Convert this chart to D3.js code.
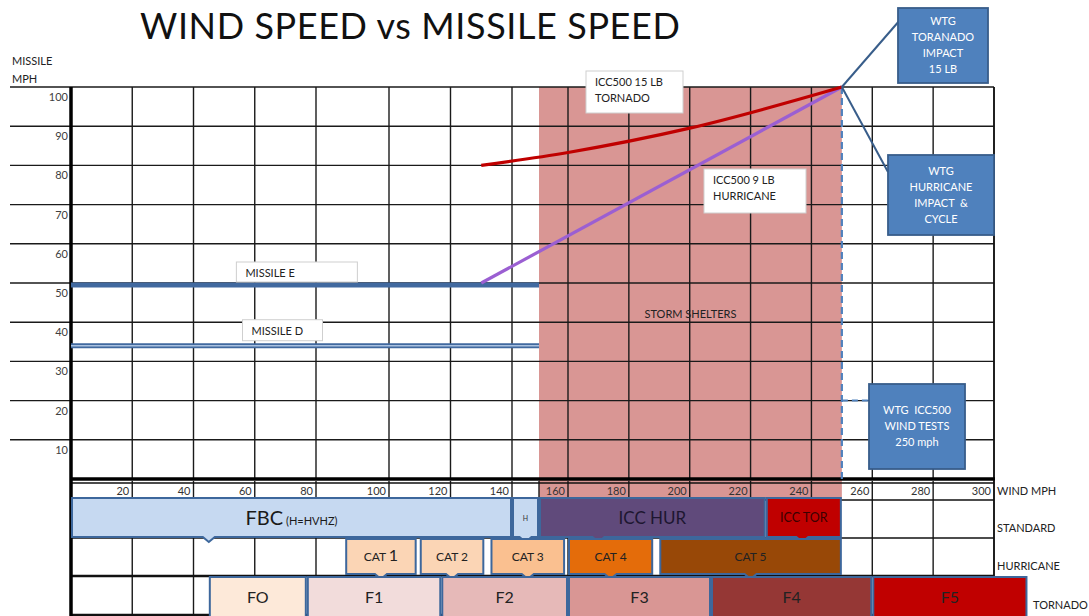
<!DOCTYPE html>
<html>
<head>
<meta charset="utf-8">
<script src="https://cdn.jsdelivr.net/npm/d3@7/dist/d3.min.js"></script>
<style>
  body { margin: 0; background: #fff; }
  svg { font-family: Lato, "Open Sans", sans-serif; }
</style>
</head>
<body>
<svg id="chart" width="1089" height="616"></svg>
<script>
// ---- data ----
const windTicks = [20, 40, 60, 80, 100, 120, 140, 160, 180, 200, 220, 240, 260, 280, 300];
const missileTicks = [10, 20, 30, 40, 50, 60, 70, 80, 90, 100];

// ICC500 15 lb tornado missile (wind mph, missile mph)
const tornadoMissile = [[130, 80], [160, 83.3], [200, 89.5], [250, 100]];
// ICC500 9 lb hurricane missile
const hurricaneMissile = [[130, 50], [250, 100]];

const missileNames = ['MISSILE E', 'MISSILE D'];
const missileSpeeds = [49.5, 34];
const missileUpTo = 150;

const stormShelter = [150, 250];
const wtgWindTest = 250;

const standardNames = ['FBC', 'H', 'ICC HUR', 'ICC TOR'];
const standardFrom = [0, 140, 150, 225];
const standardTo = [140, 150, 225, 250];

const hurricaneNames = ['CAT 1', 'CAT 2', 'CAT 3', 'CAT 4', 'CAT 5'];
const hurricaneFrom = [88, 110, 133, 160, 190];
const hurricaneTo = [109, 131, 159, 188, 250];

const tornadoNames = ['FO', 'F1', 'F2', 'F3', 'F4', 'F5'];
const tornadoFrom = [45, 77, 117, 160, 207, 260];
const tornadoTo = [77, 117, 160, 207, 260, 311];

// ---- layout ----
const svg = d3.select('#chart');

// the hand drawn grid is not evenly spaced, so the x scale has a few breakpoints
const x = d3.scaleLinear()
  .domain([0, 80, 100, 140, 150, 160, 300])
  .range([71, 316, 389, 512, 539, 568, 994]);
const y = d3.scaleLinear().domain([0, 100]).range([479, 87]);

const left = x(0), right = x(300);
const rowTick = [481, 500], rowStd = [500, 538], rowHur = [538, 576], rowTor = [576, 625];

// title
svg.append('text')
  .attr('x', 140).attr('y', 39)
  .attr('font-size', 36)
  .attr('letter-spacing', 0.6)
  .attr('fill', '#111')
  .text('WIND SPEED vs MISSILE SPEED');

svg.append('text').attr('x', 12).attr('y', 65).attr('font-size', 11).attr('fill', '#222').text('MISSILE');
svg.append('text').attr('x', 12).attr('y', 83).attr('font-size', 11).attr('fill', '#222').text('MPH');

// storm shelter area (also tints the tick row)
svg.append('rect')
  .attr('x', x(stormShelter[0])).attr('y', y(100))
  .attr('width', x(stormShelter[1]) - x(stormShelter[0]))
  .attr('height', rowTick[1] - y(100))
  .attr('fill', '#d99694');

// horizontal grid, running out to the left margin
svg.append('g').selectAll('line')
  .data(missileTicks)
  .enter().append('line')
  .attr('x1', 10).attr('x2', right)
  .attr('y1', d => y(d)).attr('y2', d => y(d))
  .attr('stroke', '#1a1a1a').attr('stroke-width', 1.4);

// vertical grid in the plot
svg.append('g').selectAll('line')
  .data(windTicks)
  .enter().append('line')
  .attr('x1', d => x(d)).attr('x2', d => x(d))
  .attr('y1', y(100)).attr('y2', y(0))
  .attr('stroke', '#1a1a1a').attr('stroke-width', 1.4);

// y tick labels sit just under their line
svg.append('g').selectAll('text')
  .data(missileTicks)
  .enter().append('text')
  .attr('x', left - 3).attr('y', d => y(d) + 14)
  .attr('text-anchor', 'end')
  .attr('font-size', 11).attr('fill', '#404040')
  .text(d => d);

// bottom table: vertical lines through tick / standard / hurricane rows
svg.append('g').selectAll('line')
  .data(windTicks.concat([150]))
  .enter().append('line')
  .attr('x1', d => x(d)).attr('x2', d => x(d))
  .attr('y1', rowTick[0]).attr('y2', d => d === 150 ? rowTick[1] : rowHur[1])
  .attr('stroke', '#1a1a1a').attr('stroke-width', 1.4);

// tornado row grid (only left part shows)
svg.append('g').selectAll('line')
  .data([20, 40])
  .enter().append('line')
  .attr('x1', d => x(d)).attr('x2', d => x(d))
  .attr('y1', rowTor[0]).attr('y2', 616)
  .attr('stroke', '#1a1a1a').attr('stroke-width', 1.4);

[rowTick[0] + 2, rowTick[1], rowStd[1], rowHur[1]].forEach((yy, i) => {
  svg.append('line')
    .attr('x1', left).attr('x2', right).attr('y1', yy).attr('y2', yy)
    .attr('stroke', '#111').attr('stroke-width', i === 3 ? 2.5 : 1.4);
});
svg.append('line').attr('x1', left).attr('x2', right).attr('y1', 615).attr('y2', 615)
  .attr('stroke', '#111').attr('stroke-width', 2.5);
svg.append('line').attr('x1', right).attr('x2', right).attr('y1', y(100)).attr('y2', rowHur[1])
  .attr('stroke', '#111').attr('stroke-width', 1.6);

// x tick labels, right aligned against their line
svg.append('g').selectAll('text')
  .data(windTicks)
  .enter().append('text')
  .attr('x', d => x(d) - 3).attr('y', 495)
  .attr('text-anchor', 'end')
  .attr('font-size', 11).attr('fill', '#333')
  .text(d => d);

// axes
svg.append('line').attr('x1', left).attr('x2', left).attr('y1', y(100)).attr('y2', 616)
  .attr('stroke', '#000').attr('stroke-width', 3.5);
svg.append('line').attr('x1', left).attr('x2', right + 1).attr('y1', y(0)).attr('y2', y(0))
  .attr('stroke', '#000').attr('stroke-width', 3.5);

// WTG test speed: dashed line at 250 mph
svg.append('line')
  .attr('x1', x(wtgWindTest)).attr('x2', x(wtgWindTest))
  .attr('y1', y(100)).attr('y2', y(0))
  .attr('stroke', '#4f81bd').attr('stroke-width', 2.2).attr('stroke-dasharray', '7,4');

// missile D / E lines
missileNames.forEach((name, i) => {
  const yy = y(missileSpeeds[i]);
  svg.append('line').attr('x1', left).attr('x2', x(missileUpTo)).attr('y1', yy).attr('y2', yy)
    .attr('stroke', '#41699f').attr('stroke-width', 5);
  if (name === 'MISSILE D') {
    svg.append('line').attr('x1', left).attr('x2', x(missileUpTo)).attr('y1', yy).attr('y2', yy)
      .attr('stroke', '#a9c1e0').attr('stroke-width', 1.5);
  }
});

const line = d3.line().x(d => x(d[0])).y(d => y(d[1])).curve(d3.curveMonotoneX);

svg.append('path').datum(hurricaneMissile)
  .attr('d', line).attr('fill', 'none')
  .attr('stroke', '#9b5fd2').attr('stroke-width', 3.2);
svg.append('path').datum(tornadoMissile)
  .attr('d', line).attr('fill', 'none')
  .attr('stroke', '#c00000').attr('stroke-width', 3.2);

// white label boxes
function labelBox(bx, by, w, h, lines) {
  svg.append('rect').attr('x', bx).attr('y', by).attr('width', w).attr('height', h)
    .attr('fill', '#fff').attr('stroke', '#cfcfcf').attr('stroke-width', 1);
  lines.forEach((t, i) => {
    svg.append('text').attr('x', bx + 9).attr('y', by + 15 + i * 16)
      .attr('font-size', 11).attr('fill', '#222').text(t);
  });
}
labelBox(x(54), y(50) - 21, 121, 20, [missileNames[0]]);
labelBox(x(56), y(missileSpeeds[1]) - 26, 80, 21, [missileNames[1]]);
labelBox(586, 71, 97, 42, ['ICC500 15 LB', 'TORNADO']);
labelBox(704, 169, 102, 44, ['ICC500 9 LB', 'HURRICANE']);

svg.append('text')
  .attr('x', (x(stormShelter[0]) + x(stormShelter[1])) / 2).attr('y', 318)
  .attr('text-anchor', 'middle').attr('font-size', 11).attr('fill', '#222')
  .text('STORM SHELTERS');

// blue callouts
function callout(bx, by, w, h, lines, fromX, fromY, toX, toY, dashed) {
  svg.append('line').attr('x1', fromX).attr('y1', fromY).attr('x2', toX).attr('y2', toY)
    .attr('stroke', dashed ? '#4f81bd' : '#385d8a').attr('stroke-width', 2)
    .attr('stroke-dasharray', dashed ? '6,4' : null);
  svg.append('rect').attr('x', bx).attr('y', by).attr('width', w).attr('height', h)
    .attr('fill', '#4f81bd').attr('stroke', '#385d8a').attr('stroke-width', 1.8);
  const top = by + h / 2 - (lines.length - 1) * 8;
  lines.forEach((t, i) => {
    svg.append('text').attr('x', bx + w / 2).attr('y', top + i * 16)
      .attr('dy', '0.35em').attr('text-anchor', 'middle')
      .attr('font-size', 11).attr('fill', '#fff')
      .style('white-space', 'pre').text(t);
  });
}
const tip = [x(wtgWindTest), y(100)];
callout(898, 8, 90, 75, ['WTG', 'TORANADO', 'IMPACT', '15 LB'], tip[0], tip[1], 900, 20);
callout(888, 155, 106, 80, ['WTG', 'HURRICANE', 'IMPACT  &', 'CYCLE'], tip[0], tip[1], 888, 172);
callout(869, 384, 96, 85, ['WTG  ICC500', 'WIND TESTS', '250 mph'], tip[0], y(20), 869, y(20), true);

// band boxes with a small pointer at the bottom
function bands(names, from, to, y0, y1, fills, pointerAt) {
  names.forEach((name, i) => {
    const x0 = x(from[i]) + 1, x1 = x(to[i]) - 1;
    const px = pointerAt ? pointerAt[i] : (x0 + x1) / 2;
    const p = `M${x0},${y0}H${x1}V${y1}H${px + 6}L${px},${y1 + 5}L${px - 6},${y1}H${x0}Z`;
    svg.append('path').attr('d', p)
      .attr('fill', fills[i]).attr('stroke', '#3d679c').attr('stroke-width', 2);
  });
}

const stdY = [498, 537], hurY = [539, 574], torY = [577, 622];
bands(standardNames, standardFrom, standardTo, stdY[0], stdY[1],
  ['#c6d9f1', '#c6d9f1', '#604a7b', '#c00000'],
  [x(45), x(145), x(170), x(237)]);
bands(hurricaneNames, hurricaneFrom, hurricaneTo, hurY[0], hurY[1],
  ['#fbd5b5', '#fbd5b5', '#fac090', '#e46c0a', '#984807']);
bands(tornadoNames, tornadoFrom, tornadoTo, torY[0], torY[1],
  ['#fde9d9', '#f2dcdb', '#e6b9b8', '#d99694', '#953735', '#c00000']);

// band texts
const fbc = svg.append('text')
  .attr('x', (x(standardFrom[0]) + x(standardTo[0])) / 2).attr('y', 525)
  .attr('text-anchor', 'middle').attr('fill', '#1a1a1a');
fbc.append('tspan').attr('font-size', 20).text('FBC');
fbc.append('tspan').attr('font-size', 11).text(' (H=HVHZ)');

svg.append('text').attr('x', (x(140) + x(150)) / 2).attr('y', 521)
  .attr('text-anchor', 'middle').attr('font-size', 7).attr('fill', '#333').text('H');
svg.append('text').attr('x', (x(150) + x(225)) / 2).attr('y', 524)
  .attr('text-anchor', 'middle').attr('font-size', 17).attr('fill', '#1d1630').text('ICC HUR');
svg.append('text').attr('x', (x(225) + x(250)) / 2).attr('y', 522)
  .attr('text-anchor', 'middle').attr('font-size', 12.5).attr('fill', '#3a0000').text('ICC TOR');

hurricaneNames.forEach((name, i) => {
  const t = svg.append('text')
    .attr('x', (x(hurricaneFrom[i]) + x(hurricaneTo[i])) / 2).attr('y', 561)
    .attr('text-anchor', 'middle').attr('font-size', 12).attr('fill', '#222');
  if (i === 0) {
    t.append('tspan').text('CAT ');
    t.append('tspan').attr('font-size', 16).text('1');
  } else {
    t.text(name);
  }
});

tornadoNames.forEach((name, i) => {
  svg.append('text')
    .attr('x', (x(tornadoFrom[i]) + x(tornadoTo[i])) / 2).attr('y', 603)
    .attr('text-anchor', 'middle').attr('font-size', 16).attr('fill', '#222')
    .text(name);
});

// row labels on the right
[['WIND MPH', 997, 495], ['STANDARD', 997, 532], ['HURRICANE', 997, 570], ['TORNADO', 1033, 609]]
  .forEach(([t, tx, ty]) => {
    svg.append('text').attr('x', tx).attr('y', ty).attr('font-size', 11).attr('fill', '#222').text(t);
  });
</script>
</body>
</html>
